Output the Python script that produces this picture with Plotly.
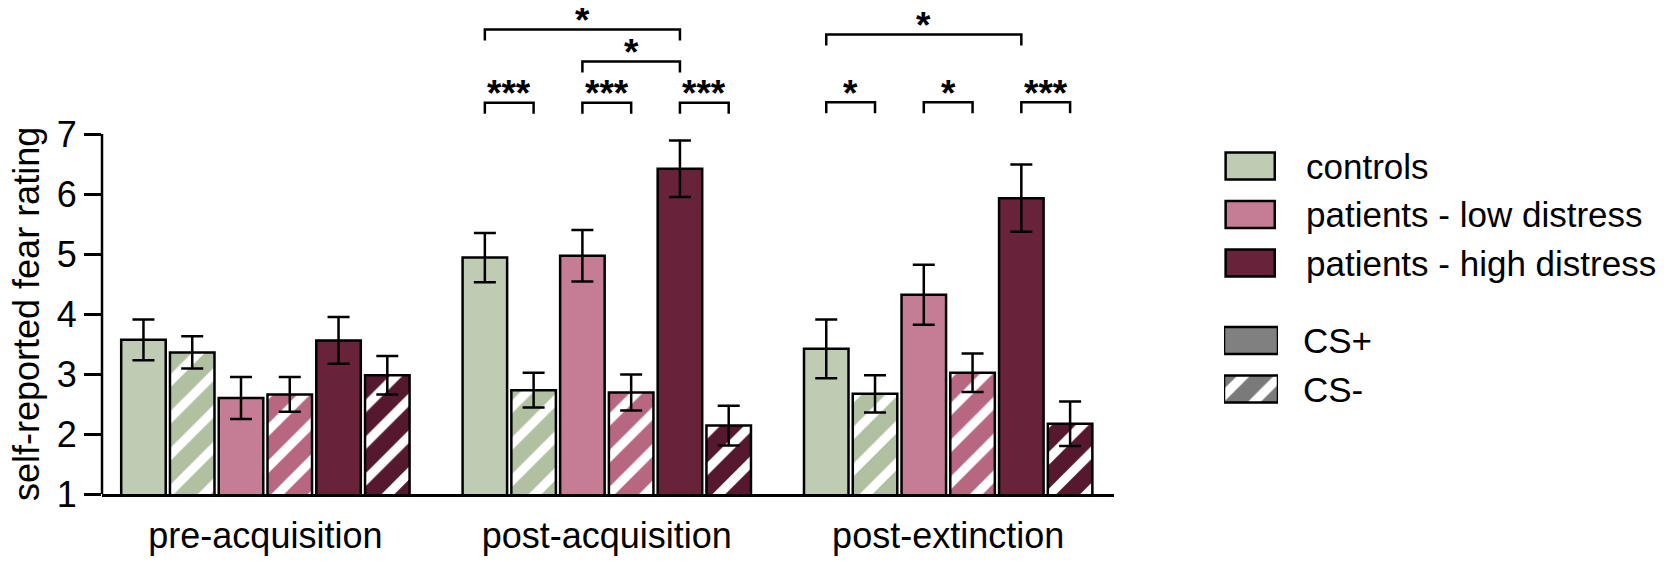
import plotly.graph_objects as go

# ---------------- data ----------------
phases = ["pre-acquisition", "post-acquisition", "post-extinction"]
groups = ["controls", "patients - low distress", "patients - high distress"]
cs_labels = ["CS+", "CS-"]

controls_csp = [3.57, 4.94, 3.42]
controls_csp_sem = [0.34, 0.41, 0.49]
controls_csm = [3.36, 2.73, 2.67]
controls_csm_sem = [0.27, 0.29, 0.31]
low_csp = [2.60, 4.97, 4.32]
low_csp_sem = [0.35, 0.43, 0.50]
low_csm = [2.66, 2.69, 3.02]
low_csm_sem = [0.29, 0.30, 0.32]
high_csp = [3.56, 6.42, 5.93]
high_csp_sem = [0.39, 0.47, 0.56]
high_csm = [2.98, 2.14, 2.17]
high_csm_sem = [0.32, 0.33, 0.37]

y_ticks = [1, 2, 3, 4, 5, 6, 7]

# significance comparisons: (phase index, bar slot a, bar slot b, label)
comparisons = [
    (1, 0, 1, "***"), (1, 2, 3, "***"), (1, 4, 5, "***"),
    (1, 2, 4, "*"), (1, 0, 4, "*"),
    (2, 0, 1, "*"), (2, 2, 3, "*"), (2, 4, 5, "***"),
    (2, 0, 4, "*"),
]
# bracket heights (style)
bracket_levels = [7.52, 7.52, 7.52, 8.21, 8.74, 7.53, 7.53, 7.53, 8.66]

# ---------------- style ----------------
FONT = "Liberation Sans"
FS = 36
LEG_FS = 35
W, H = 1671, 562
B = 76
col_csp = ["#BFCBB2", "#C57D95", "#68233A"]
col_csm = ["#B0C0A0", "#B76780", "#56182E"]
LW = 2.5
SLOTS = 7          # 6 bars + 1 gap per phase
BAR_W = 0.913

series = [
    (controls_csp, controls_csp_sem, controls_csm, controls_csm_sem),
    (low_csp, low_csp_sem, low_csm, low_csm_sem),
    (high_csp, high_csp_sem, high_csm, high_csm_sem),
]

fig = go.Figure()

for gi, (pm, ps, mm, ms) in enumerate(series):
    for ci, (vals, sems) in enumerate([(pm, ps), (mm, ms)]):
        slot = gi * 2 + ci
        xs = [p * SLOTS + slot for p in range(len(phases))]
        if ci == 0:
            marker = dict(color=col_csp[gi], line=dict(color="black", width=LW))
        else:
            marker = dict(color=col_csm[gi], line=dict(color="black", width=LW),
                          pattern=dict(shape="/", fgcolor="white", bgcolor=col_csm[gi],
                                       size=26, solidity=0.35, fillmode="replace"))
        fig.add_trace(go.Bar(
            x=xs, y=vals, base=0, width=BAR_W, marker=marker,
            error_y=dict(type="data", array=sems, color="black", thickness=LW, width=11),
            name=f"{groups[gi]} {cs_labels[ci]}", showlegend=False,
            xaxis="x", yaxis="y",
        ))

# significance brackets
tip = 0.183
for (p, a, b, lab), lvl in zip(comparisons, bracket_levels):
    xa = p * SLOTS + a
    xb = p * SLOTS + b
    fig.add_shape(type="path",
                  path=f"M {xa},{lvl - tip} L {xa},{lvl} L {xb},{lvl} L {xb},{lvl - tip}",
                  xref="x", yref="y", line=dict(color="black", width=LW))
    fig.add_annotation(x=(xa + xb) / 2, y=lvl, xref="x", yref="y", text=f"<b>{lab}</b>",
                       showarrow=False, yanchor="middle", yshift=9,
                       font=dict(family=FONT, size=37, color="black"))

# y axis line (only from 1 to 7)
fig.add_shape(type="line", xref="x domain", yref="y", x0=0, x1=0, y0=1 - 0.02, y1=7,
              line=dict(color="black", width=LW))

# ---------------- legend as a small subplot ----------------
LX0, LX1 = 1216, 1270
ROW0, UNIT = 158, 48.5
legend_rows = [0, 1, 2, 3.6, 4.6]
legend_labels = groups + cs_labels
legend_fill = col_csp + ["#808080", "#7A7A7A"]
for i, (row, lab, c) in enumerate(zip(legend_rows, legend_labels, legend_fill)):
    is_cs = i >= 3
    mk = dict(color=c, line=dict(color="black", width=LW))
    if i == 4:
        mk["pattern"] = dict(shape="/", fgcolor="white", bgcolor=c, size=26,
                             solidity=0.35, fillmode="replace")
    fig.add_trace(go.Bar(
        x=[1.0 if is_cs else 0.91], base=[0.0 if is_cs else 0.03], y=[row],
        orientation="h", width=0.557, marker=mk, showlegend=False,
        xaxis="x2", yaxis="y2", hoverinfo="skip",
    ))
    fig.add_annotation(x=(1293 if is_cs else 1296) / W, y=row, xref="paper", yref="y2",
                       text=lab, showarrow=False, xanchor="left", yanchor="middle",
                       font=dict(family=FONT, size=LEG_FS, color="black"))

# y title
fig.add_annotation(x=18 / W, y=4, xref="paper", yref="y", text="self-reported fear rating",
                   textangle=-90, showarrow=False, xanchor="center", yanchor="middle",
                   font=dict(family=FONT, size=FS, color="black"))

plot_h = H - B
top_px = 130
bot_px = 402
fig.update_layout(
    width=W, height=H,
    margin=dict(l=0, r=0, t=0, b=B),
    paper_bgcolor="white", plot_bgcolor="white",
    font=dict(family=FONT, size=FS, color="black"),
    barmode="overlay",
    xaxis=dict(domain=[94 / W, 1106 / W], range=[-0.85, 19.9],
               tickvals=[p * SLOTS + 2.5 for p in range(len(phases))], ticktext=phases,
               ticks="", showline=True, linecolor="black", linewidth=LW,
               ticklabelstandoff=8,
               showgrid=False, zeroline=False, tickfont=dict(size=FS), automargin=False),
    yaxis=dict(domain=[0, 1], range=[1, 1 + plot_h / 60.0], tickvals=y_ticks,
               ticks="outside", ticklen=17, tickwidth=LW, tickcolor="black",
               showline=False, showgrid=False, zeroline=False,
               tickfont=dict(size=FS), automargin=False),
    xaxis2=dict(domain=[LX0 / W, LX1 / W], range=[0, 1], visible=False, fixedrange=True),
    yaxis2=dict(domain=[(plot_h - bot_px) / plot_h, (plot_h - top_px) / plot_h],
                range=[(bot_px - ROW0) / UNIT, (top_px - ROW0) / UNIT], visible=False,
                anchor="x2", fixedrange=True),
)
fig.update_layout(xaxis2_anchor="y2")

fig.write_html("out.html")
